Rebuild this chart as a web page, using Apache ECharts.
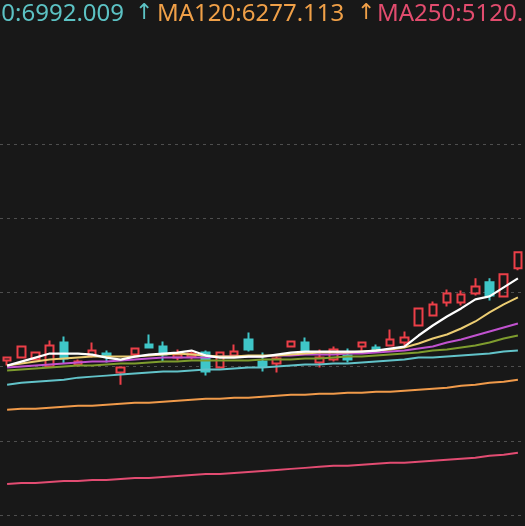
<!DOCTYPE html>
<html>
<head>
<meta charset="utf-8">
<script src="https://cdn.jsdelivr.net/npm/echarts@6/dist/echarts.min.js"></script>
<style>
html,body{margin:0;padding:0;background:#181818;}
#c{width:525px;height:526px;}
</style>
</head>
<body>
<div id="c"></div>
<script>
// trading days (index only, no axis labels are shown)
const days = Array.from({length: 37}, (_, i) => 'D' + (i + 1));

// [open, close, low, high]
const candles = [
  [5980,6010,5930,6010],[6010,6120,6000,6130],[5990,6060,5980,6070],[5920,6130,5910,6180],
  [6160,6000,5950,6220],[5940,5970,5920,5990],[6030,6080,6010,6160],[6050,6030,5960,6080],
  [5860,5910,5740,5920],[6040,6100,6020,6110],[6140,6110,6100,6240],[6120,6040,5970,6170],
  [6010,6040,5980,6090],[6020,6050,5990,6070],[6060,5870,5830,6080],[5910,6060,5900,6070],
  [6030,6070,6010,6140],[6190,6090,6070,6260],[5970,5920,5870,6060],[5950,6000,5860,6020],
  [6120,6170,6110,6180],[6160,6070,6050,6210],[5960,6010,5910,6090],[5990,6090,5970,6120],
  [6030,5990,5960,6100],[6120,6160,6070,6160],[6110,6070,6060,6140],[6130,6190,6120,6290],
  [6160,6210,6110,6270],[6330,6500,6320,6510],[6430,6540,6420,6570],[6560,6650,6520,6690],
  [6560,6640,6530,6680],[6650,6720,6630,6800],[6760,6630,6580,6800],[6620,6840,6610,6850],
  [6900,7060,6880,7070]
];

const ma5 = [5930,5970,6010,6050,6050,6050,6040,6010,5990,6020,6040,6050,6060,6080,6030,6010,6010,6020,6020,6040,6060,6070,6070,6070,6070,6070,6080,6100,6120,6230,6330,6420,6500,6590,6620,6710,6800];
const ma10 = [5930,5950,5970,5990,6000,6010,6020,6020,6020,6020,6030,6040,6050,6040,6030,6020,6020,6030,6030,6030,6040,6050,6060,6060,6060,6070,6080,6090,6110,6150,6200,6240,6300,6370,6460,6540,6610];
const ma20 = [5910,5920,5930,5940,5950,5960,5970,5970,5980,5990,6000,6010,6010,6010,6010,6020,6020,6020,6020,6030,6030,6040,6040,6040,6050,6050,6060,6070,6080,6100,6120,6160,6190,6230,6270,6310,6350];
const ma30 = [5880,5890,5900,5910,5920,5930,5930,5940,5950,5950,5960,5970,5970,5980,5980,5980,5980,5980,5990,5990,5990,6000,6000,6010,6020,6020,6030,6040,6050,6060,6080,6090,6110,6130,6160,6200,6230];
const ma60 = [5740,5760,5770,5780,5790,5810,5820,5830,5840,5850,5860,5870,5870,5880,5890,5890,5900,5910,5910,5920,5930,5940,5940,5950,5950,5960,5970,5980,5990,6010,6010,6020,6030,6040,6050,6070,6080];
const ma120 = [5490,5500,5500,5510,5520,5530,5530,5540,5550,5560,5560,5570,5580,5590,5600,5600,5610,5610,5620,5630,5640,5640,5650,5650,5660,5660,5670,5670,5680,5690,5700,5710,5730,5740,5760,5770,5790];
const ma250 = [4750,4760,4760,4770,4780,4780,4790,4790,4800,4810,4810,4820,4830,4840,4850,4850,4860,4870,4880,4890,4900,4910,4920,4930,4930,4940,4950,4960,4960,4970,4980,4990,5000,5010,5030,5040,5060];

// legend readout texts
const legendMA60 = 'MA60:6992.009';
const legendMA120 = 'MA120:6277.113';
const legendMA250 = 'MA250:5120.';
const arrowUp = '↑';

const UP = '#ec3f48', DOWN = '#3fc6c8';
const FONT = '"Noto Sans", "DejaVu Sans", sans-serif';

function maLine(name, data, color, width) {
  return {
    name, type: 'line', data, symbol: 'none', smooth: false, z: 3,
    lineStyle: {color, width: width || 2}, clip: false, silent: true
  };
}

const chart = echarts.init(document.getElementById('c'), null, {renderer: 'canvas'});
chart.setOption({
  backgroundColor: '#181818',
  animation: false,
  grid: {left: -3, right: 0, top: 144, bottom: 11},
  xAxis: {
    type: 'category', data: days, boundaryGap: true,
    axisLine: {show: false}, axisTick: {show: false}, axisLabel: {show: false},
    splitLine: {show: false}
  },
  yAxis: {
    type: 'value', min: 4440, max: 8140, interval: 740, scale: true,
    axisLine: {show: false}, axisTick: {show: false}, axisLabel: {show: false},
    splitLine: {show: true, lineStyle: {color: '#4e4e4e', type: [3, 4], width: 1}}
  },
  series: [
    {
      type: 'candlestick', data: candles, barWidth: 8, z: 2,
      itemStyle: {color: 'transparent', color0: DOWN, borderColor: UP, borderColor0: DOWN, borderWidth: 2}
    },
    maLine('MA250', ma250, '#e24c72'),
    maLine('MA120', ma120, '#f09a4a'),
    maLine('MA60', ma60, '#62c3c9'),
    maLine('MA30', ma30, '#7e9c2e'),
    maLine('MA20', ma20, '#c152cf'),
    maLine('MA10', ma10, '#eccd73'),
    maLine('MA5', ma5, '#ffffff', 2.2)
  ],
  graphic: [
    {type: 'text', right: 525 - 124, top: 2, style: {text: legendMA60, fill: '#5cc2c4', font: '24px ' + FONT, textAlign: 'right'}},
    {type: 'text', left: 135, top: 2, style: {text: arrowUp, fill: '#5cc2c4', font: '22px ' + FONT}},
    {type: 'text', left: 157, top: 2, style: {text: legendMA120, fill: '#f0a048', font: '24px ' + FONT}},
    {type: 'text', left: 357, top: 2, style: {text: arrowUp, fill: '#f0a048', font: '22px ' + FONT}},
    {type: 'text', left: 377, top: 2, style: {text: legendMA250, fill: '#e24c6e', font: '24px ' + FONT}}
  ]
});
</script>
</body>
</html>
